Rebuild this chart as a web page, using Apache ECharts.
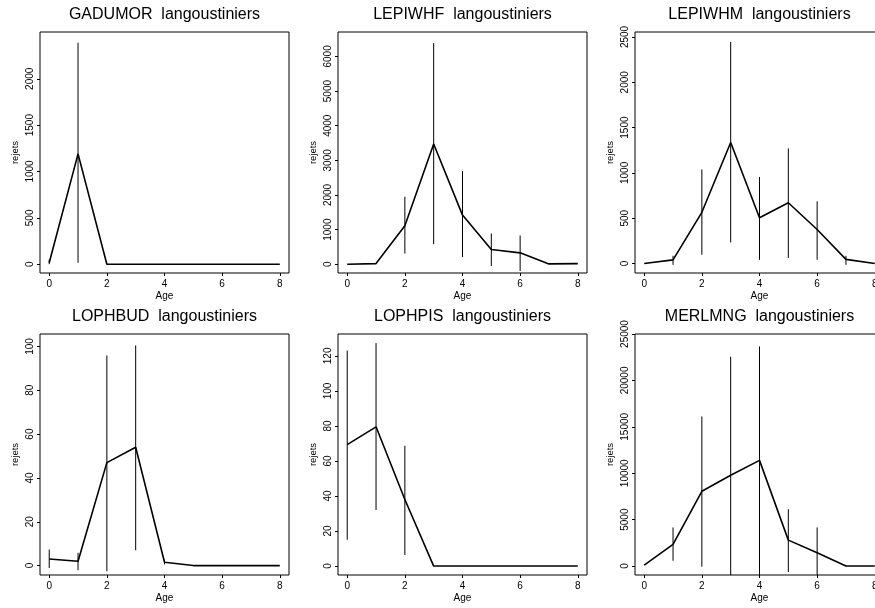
<!DOCTYPE html>
<html>
<head>
<meta charset="utf-8">
<script src="https://cdn.jsdelivr.net/npm/echarts@6/dist/echarts.min.js"></script>
<style>
html,body{margin:0;padding:0;background:#fff;}
#c{width:875px;height:608px;}
</style>
</head>
<body>
<div id="c"></div>
<script>
// ---- data ----
const ages = [0, 1, 2, 3, 4, 5, 6, 7, 8];
const xTicks = [0, 2, 4, 6, 8];

const titles = ["GADUMOR  langoustiniers", "LEPIWHF  langoustiniers", "LEPIWHM  langoustiniers",
                "LOPHBUD  langoustiniers", "LOPHPIS  langoustiniers", "MERLMNG  langoustiniers"];

const gadumorMean = [15, 1190, 0, 0, 0, 0, 0, 0, 0];
const gadumorLo   = [0, 15, null, null, null, null, null, null, null];
const gadumorHi   = [50, 2390, null, null, null, null, null, null, null];
const gadumorTicks = [0, 500, 1000, 1500, 2000];

const lepiwhfMean = [0, 20, 1110, 3470, 1420, 425, 330, 10, 20];
const lepiwhfLo   = [null, null, 310, 579, 205, -49, -194, null, null];
const lepiwhfHi   = [null, null, 1948, 6386, 2691, 887, 830, null, null];
const lepiwhfTicks = [0, 1000, 2000, 3000, 4000, 5000, 6000];

const lepiwhmMean = [0, 40, 565, 1335, 505, 670, 375, 45, 0];
const lepiwhmLo   = [null, -15, 96, 233, 41, 60, 41, -15, null];
const lepiwhmHi   = [null, 85, 1038, 2445, 955, 1270, 686, 85, null];
const lepiwhmTicks = [0, 500, 1000, 1500, 2000, 2500];

const lophbudMean = [3.0, 2.0, 47, 54, 1.5, 0, 0, 0, 0];
const lophbudLo   = [-1.1, -2.1, -2.6, 7.0, 0.5, null, null, null, null];
const lophbudHi   = [7.3, 5.8, 95.9, 100.5, 2.7, null, null, null, null];
const lophbudTicks = [0, 20, 40, 60, 80, 100];

const lophpisMean = [69.3, 79.5, 38, 0, 0, 0, 0, 0, 0];
const lophpisLo   = [15, 32, 6.3, null, null, null, null, null, null];
const lophpisHi   = [123, 127.3, 68.7, null, null, null, null, null, null];
const lophpisTicks = [0, 20, 40, 60, 80, 100, 120];

const merlmngMean = [107, 2327, 8056, 9774, 11385, 2792, 1432, 0, 0];
const merlmngLo   = [null, 570, -70, -2000, -2000, -644, -2000, null, null];
const merlmngHi   = [null, 4157, 16112, 22556, 23663, 6122, 4157, null, null];
const merlmngTicks = [0, 5000, 10000, 15000, 20000, 25000];

const yRanges = [[-95, 2505], [-252, 6705], [-105, 2555], [-4.3, 105.7], [-5.1, 132.5], [-965, 25000]];
const xRange = [-0.32, 8.32];

// ---- layout ----
const panels = [
  {mean: gadumorMean, lo: gadumorLo, hi: gadumorHi, ticks: gadumorTicks},
  {mean: lepiwhfMean, lo: lepiwhfLo, hi: lepiwhfHi, ticks: lepiwhfTicks},
  {mean: lepiwhmMean, lo: lepiwhmLo, hi: lepiwhmHi, ticks: lepiwhmTicks},
  {mean: lophbudMean, lo: lophbudLo, hi: lophbudHi, ticks: lophbudTicks},
  {mean: lophpisMean, lo: lophpisLo, hi: lophpisHi, ticks: lophpisTicks},
  {mean: merlmngMean, lo: merlmngLo, hi: merlmngHi, ticks: merlmngTicks}
];
const colLeft = [40, 338, 635];
const rowTop = [32, 334];
const W = 249, H = 241;
const FONT = 'Liberation Sans, Arial, Helvetica, sans-serif';

const grids = [], xAxes = [], yAxes = [], series = [], titleArr = [];
panels.forEach((p, i) => {
  const c = i % 3, r = Math.floor(i / 3);
  grids.push({left: colLeft[c], top: rowTop[r], width: W, height: H, show: true,
              borderColor: '#000', borderWidth: 1, backgroundColor: 'transparent',
              containLabel: false, outerBoundsMode: 'none'});
  titleArr.push({text: titles[i], left: colLeft[c] + W / 2, top: rowTop[r] - 25, textAlign: 'center', padding: 0,
                 textStyle: {fontFamily: FONT, fontSize: 16, fontWeight: 'normal', color: '#000'}});
  xAxes.push({type: 'value', gridIndex: i, min: xRange[0], max: xRange[1],
              name: 'Age', nameLocation: 'middle', nameGap: 18,
              nameTextStyle: {fontFamily: FONT, fontSize: 10, color: '#000'},
              axisLine: {show: false, onZero: false},
              axisTick: {show: true, length: 3, customValues: xTicks, lineStyle: {color: '#000', width: 1}},
              axisLabel: {show: true, customValues: xTicks, margin: 6, fontFamily: FONT, fontSize: 10, color: '#000',
                          formatter: v => String(v)},
              splitLine: {show: false}});
  yAxes.push({type: 'value', gridIndex: i, min: yRanges[i][0], max: yRanges[i][1],
              name: 'rejets', nameLocation: 'middle', nameGap: 20,
              nameTextStyle: {fontFamily: FONT, fontSize: 9.5, color: '#000'},
              axisLine: {show: false, onZero: false},
              axisTick: {show: true, length: 3, customValues: p.ticks, lineStyle: {color: '#000', width: 1}},
              axisLabel: {show: true, customValues: p.ticks, rotate: 90, margin: 5, fontFamily: FONT, fontSize: 10, color: '#000',
                          formatter: v => String(v)},
              splitLine: {show: false}});
  series.push({type: 'line', xAxisIndex: i, yAxisIndex: i, data: ages.map((a, k) => [a, p.mean[k]]),
               symbol: 'none', lineStyle: {color: '#000', width: 1.6}, silent: true, animation: false});
  const bars = [];
  ages.forEach((a, k) => { if (p.lo[k] !== null && p.hi[k] !== null) bars.push([a, p.lo[k], p.hi[k]]); });
  series.push({type: 'custom', xAxisIndex: i, yAxisIndex: i, data: bars, clip: true, silent: true, animation: false,
               renderItem: (params, api) => {
                 const a = api.coord([api.value(0), api.value(1)]);
                 const b = api.coord([api.value(0), api.value(2)]);
                 return {type: 'line', shape: {x1: a[0], y1: a[1], x2: b[0], y2: b[1]},
                         style: {stroke: '#000', lineWidth: 1}};
               }});
});

const chart = echarts.init(document.getElementById('c'), null, {renderer: 'canvas'});
chart.setOption({
  backgroundColor: '#fff',
  animation: false,
  title: titleArr,
  grid: grids,
  xAxis: xAxes,
  yAxis: yAxes,
  series: series
});
</script>
</body>
</html>
